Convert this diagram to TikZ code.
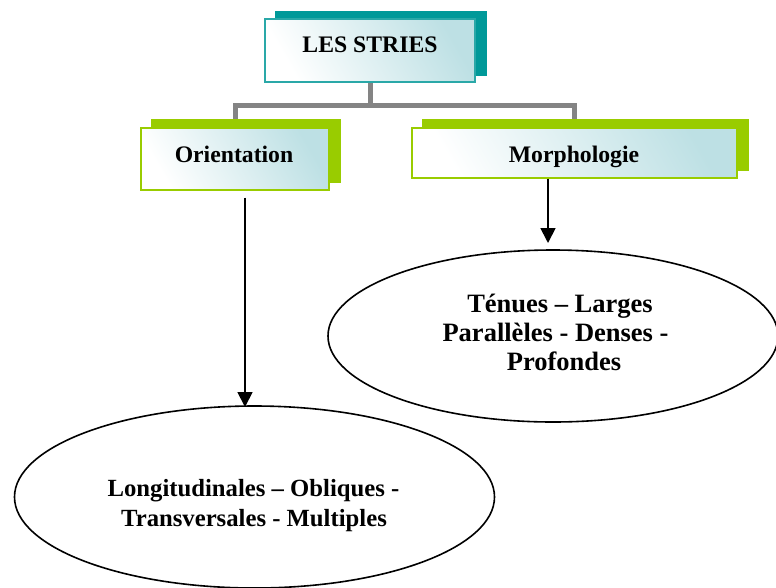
\documentclass[tikz,border=0pt]{standalone}
\usepackage{fontspec}
\setmainfont{Liberation Serif}
\usetikzlibrary{arrows.meta,shapes.geometric}
\pgfdeclarelayer{bg}
\pgfsetlayers{bg,main}
\definecolor{tealsh}{HTML}{009999}
\definecolor{tealbd}{HTML}{2AA8A8}
\definecolor{grn}{HTML}{99CC00}
\definecolor{conngray}{HTML}{848484}
\definecolor{boxcyan}{HTML}{BDE0E4}
\tikzset{
  front/.style={rectangle, inner sep=0pt, line width=1.4pt,
    top color=boxcyan, bottom color=white, shading angle=-60},
  lbl/.style={inner sep=0pt, anchor=base, font=\fontsize{23.7}{28}\selectfont\bfseries},
  etext/.style={inner sep=0pt, anchor=base, font=\fontsize{24.7}{29}\selectfont\bfseries},
  etextb/.style={inner sep=0pt, anchor=base, font=\fontsize{26.5}{29}\selectfont\bfseries},
  conn/.style={draw=conngray, line width=5pt, line join=miter},
  arr/.style={line width=1.8pt, -{Triangle[width=15pt,length=15pt]}},
  oval/.style={draw, ellipse, line width=1.6pt, inner sep=0pt}
}
\begin{document}
\begin{tikzpicture}[x=1pt,y=-1pt]
\useasboundingbox (0,0) rectangle (776,587);
% boxes
\node[front, draw=tealbd, minimum width=210pt, minimum height=63pt] (top) at (370,50.5) {};
\node[front, draw=grn, minimum width=188pt, minimum height=62pt] (orient) at (235,159) {};
\node[front, draw=grn, minimum width=325pt, minimum height=50pt] (morph) at (574.5,153) {};
\coordinate (bar) at (370,105);
\begin{pgfonlayer}{bg}
  \fill[white] (0,0) rectangle (776,587);
  \draw[conn] (top.south) -- (top.south |- bar) -| (orient.north);
  \draw[conn] (top.south |- bar) -| (morph.north);
  \fill[tealsh] ([shift={(11,-7)}]top.south west) rectangle ([shift={(11,-7)}]top.north east);
  \fill[grn] ([shift={(11,-8)}]orient.south west) rectangle ([shift={(11,-8)}]orient.north east);
  \fill[grn] ([shift={(11,-8)}]morph.south west) rectangle ([shift={(11,-8)}]morph.north east);
\end{pgfonlayer}
% labels
\node[lbl] (ttop) at (370,52) {LES STRIES};
\node[lbl] (torient) at (234,162) {Orientation};
\node[lbl] (tmorph) at (574,162) {Morphologie};
% ellipses
\node[oval, minimum width=450pt, minimum height=172pt] (eright) at (553,336) {};
\node[oval, minimum width=480pt, minimum height=182pt] (eleft) at (254.5,497) {};
\node[etextb] (r1) at (560,312) {Ténues – Larges};
\node[etextb] (r2) at (555.5,341.5) {Parallèles - Denses -};
\node[etextb] (r3) at (564,370.5) {Profondes};
\node[etext] (l1) at (253.5,496.5) {Longitudinales – Obliques -};
\node[etext] (l2) at (254,526.5) {Transversales - Multiples};
% arrows
\coordinate (mtip) at (548,243);
\coordinate (otip) at (245,407);
\draw[arr] (morph.south -| mtip) -- (mtip);
\draw[arr, shorten <=7pt] (orient.south -| otip) -- (otip);
\end{tikzpicture}
\end{document}
